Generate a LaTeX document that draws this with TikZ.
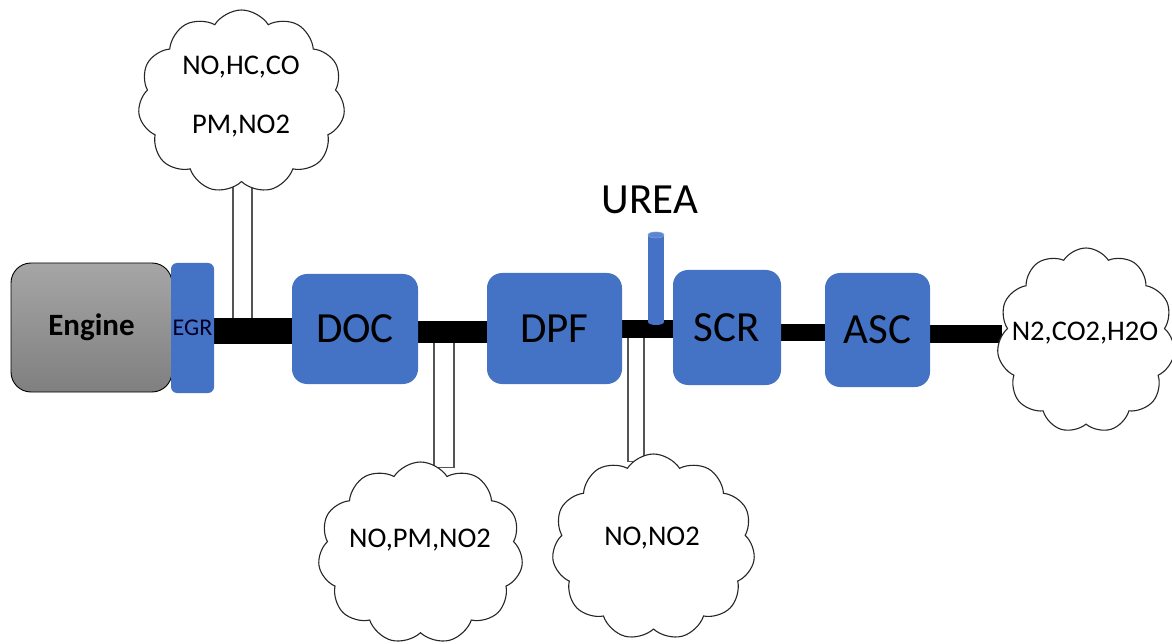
\documentclass[tikz,border=0pt]{standalone}
\usepackage{fontspec}
\setmainfont{Carlito}
\usetikzlibrary{shapes.symbols,calc}
\definecolor{unitblue}{HTML}{4472C4}
\definecolor{capblue}{HTML}{5B86D3}
\definecolor{stubgray}{HTML}{555555}
\pgfdeclarelayer{pipes}
\pgfsetlayers{pipes,main}
\begin{document}
\begin{tikzpicture}[x=1pt,y=-1pt,
  unit/.style={fill=unitblue, rounded corners=15pt, inner sep=0pt,
    font=\fontsize{43}{46}\selectfont},
  pipe/.style={line width=#1, line cap=round, draw=black},
  stub/.style={draw=stubgray, fill=white, line width=1.1pt},
  puff/.style={cloud, cloud puffs=11, cloud puff arc=115, cloud ignores aspect,
    draw=black!85, fill=white, line width=1.1pt, inner sep=0pt},
  gas/.style={font=\fontsize{28.5}{32}\selectfont, inner sep=0pt}]
\useasboundingbox (0,0) rectangle (1172,644);

% engine block and EGR valve
\node[draw=black, line width=0.9pt, rounded corners=20pt,
      top color=black!35, bottom color=black!50,
      minimum width=161pt, minimum height=129pt, inner sep=0pt,
      font=\fontsize{31}{34}\selectfont\bfseries] (engine) at (91.5,327.5) {Engine};
\node[fill=unitblue, rounded corners=6pt, minimum width=43pt, minimum height=130pt,
      inner sep=0pt, text=black!85!blue, font=\fontsize{24}{26}\selectfont] (egr) at (192.5,328) {EGR};

% after-treatment units
\node[unit, minimum width=126pt, minimum height=110pt] (doc) at (355,329) {DOC};
\node[unit, minimum width=135pt, minimum height=111pt] (dpf) at (554.5,328.5) {DPF};
\node[unit, minimum width=108pt, minimum height=115pt] (scr) at (727,327.5) {SCR};
\node[unit, minimum width=105pt, minimum height=114pt] (asc) at (877.5,330) {ASC};

% gas clouds
\node[puff, minimum width=207pt, minimum height=183pt] (c1) at (241.5,101.5) {};
\node[gas] (g1a) at (241,67) {NO,HC,CO};
\node[gas] (g1b) at (241,126) {PM,NO2};
\node[puff, minimum width=205pt, minimum height=182pt] (c2) at (420.5,553) {};
\node[gas] (g2) at (420,540) {NO,PM,NO2};
\node[puff, minimum width=203pt, minimum height=186pt] (c3) at (653.5,547) {};
\node[gas] (g3) at (652,538) {NO,NO2};
\node[puff, minimum width=178pt, minimum height=185pt] (c4) at (1086,340.5) {};
\node[gas] (g4) at (1085,333) {N2,CO2,H2O};

% branch taps on the exhaust line
\coordinate (t1) at (242.5,322);
\coordinate (t2) at (444,336);
\coordinate (t3) at (636,332);
\coordinate (out) at ([xshift=3pt]c4.west);

\begin{pgfonlayer}{pipes}
  % sampling stubs
  \draw[stub] ($(t1)+(-9.5,0)$) rectangle ($(t1 |- c1.south)+(9.5,-2)$);
  \draw[stub] ($(t2)+(-10,0)$) rectangle ($(t2 |- c2.north)+(10,6)$);
  \draw[stub] ($(t3)+(-8,0)$) rectangle ($(t3 |- c3.north)+(8,8)$);
  % exhaust pipes
  \draw[pipe=26pt] ([yshift=-3pt]egr.east) -- ([yshift=-3pt]egr.east -| doc.west);
  \draw[pipe=22pt] ([yshift=-3pt]doc.east) -- ([yshift=-3pt]doc.east -| dpf.west);
  \draw[pipe=18pt] ([yshift=-0.5pt]dpf.east) -- ([yshift=-0.5pt]dpf.east -| scr.west);
  \draw[pipe=17pt] ([yshift=-4.5pt]scr.east) -- ([yshift=-4.5pt]scr.east -| asc.west);
  \draw[pipe=18pt, line cap=butt] ([yshift=-3.5pt]asc.east) -- ([yshift=-3.5pt]asc.east -| out);
\end{pgfonlayer}

% urea injector
\coordinate (inj) at (656,322);
\fill[unitblue] (648,235) rectangle (664,322);
\fill[unitblue] (inj) ellipse (8 and 3);
\filldraw[fill=capblue, draw=unitblue!70!white, line width=0.6pt] (656,235) ellipse (8 and 3);
\node[font=\fontsize{43}{46}\selectfont, inner sep=0pt] (urea) at (650,200) {UREA};
\end{tikzpicture}
\end{document}
